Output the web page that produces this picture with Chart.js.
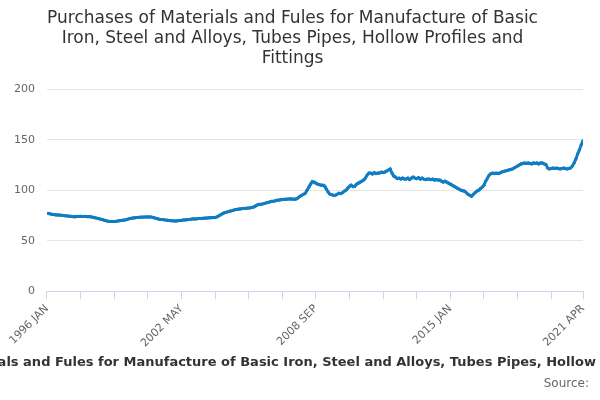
<!DOCTYPE html>
<html>
<head>
<meta charset="utf-8">
<script src="https://cdn.jsdelivr.net/npm/chart.js@4/dist/chart.umd.min.js"></script>
<style>
  html, body { margin: 0; padding: 0; background: #fff; }
  #wrap { position: relative; width: 600px; height: 400px; overflow: hidden; font-family: "DejaVu Sans", sans-serif; }
  #subtitle { position: absolute; left: -300px; width: 1200px; top: 354px; text-align: center; white-space: nowrap;
              font-size: 13px; font-weight: bold; color: #333; }
  #source { position: absolute; right: 11px; top: 376px; font-size: 12px; color: #666; }
</style>
</head>
<body>
<div id="wrap">
  <canvas id="chart" width="600" height="400"></canvas>
  <div id="subtitle">Purchases of Materials and Fules for Manufacture of Basic Iron, Steel and Alloys, Tubes Pipes, Hollow Profiles and Fittings</div>
  <div id="source">Source:</div>
</div>
<script>
// monthly index, 1996 JAN .. 2021 APR
const values = [
  77,77,76.5,76,76,75.5,75.5,75.4,75.2,75,74.8,74.6,
  74.4,74.2,74,73.8,73.8,74,74,74.2,74,74,74,73.8,
  74,73.6,73.2,72.8,72.4,72,71.5,71,70.5,70,69.5,69.2,
  69,69,69,69.2,69.5,69.8,70,70.3,70.6,71,71.5,72,
  72.3,72.6,72.8,73,73.2,73.3,73.4,73.5,73.5,73.6,73.5,73.5,
  73,72.5,72,71.5,71,71,70.8,70.5,70.3,70,69.8,69.7,
  69.6,69.6,69.8,70,70.2,70.5,70.6,70.8,71,71.2,71.5,71.7,
  71.5,71.8,72,72,72.2,72.3,72.5,72.6,72.8,72.8,73,73,
  73.5,74.5,75.5,76.5,77.5,78,78.5,79,79.5,80,80.5,81,
  81.2,81.5,81.7,82,82,82.2,82.4,82.6,83,83.5,84.5,85.5,
  86,86,86.5,87,87.5,88,88.5,89,89,89.5,90,90.2,
  90.5,90.7,91,91,91.2,91.4,91.4,91.2,91,91.5,92.5,94,
  95,96,97,100,103,106,108.6,108,107,106,105.5,105,
  105,104,101,98,96,95.5,95,95,96,97,96.5,97.5,
  99,100,102,104,105,103.5,104,106,107,108,109,110,
  112,115,117,117,116,117.5,116.5,117,117,118,117.5,118,
  119,120,121,117,114,113,111.5,112,111,112,111,111,
  112,110.5,112,113,112,111.5,112.5,111,112,111,110.5,111,
  111,110.5,111,110,110.5,110,110,109,108,109,108,107,
  106,105,104,103,102,101,100,99.5,99,97.5,96,95,
  94,96,97.5,99,100,101.5,103,105,109,112,115,116.5,
  117,116.5,117,116.5,117,118,118.5,119,119.5,120,120.5,121,
  122,123,124,125,126,126.5,127,126.5,127,126.5,126,127,
  126.5,127,126,127,127,126,125.5,122,121,121.5,122,121.5,
  122,121.5,121,121.5,122,121.5,121,121.5,122,124,127,131,
  136,140,145,149
];
const tickLabels = ['1996 JAN', '2002 MAY', '2008 SEP', '2015 JAN', '2021 APR'];
const labelAt = [0, 76, 152, 228, 303];  // month index of each printed label
const tickEvery = 19;                    // months between tick marks
const yTicks = [0, 50, 100, 150, 200];

const lineColor = '#0f7dc2';

new Chart(document.getElementById('chart'), {
  type: 'line',
  data: {
    datasets: [{
      data: values.map((v, i) => ({ x: i, y: v })),
      borderColor: lineColor,
      backgroundColor: lineColor,
      borderWidth: 3,
      pointRadius: 1.6,
      pointBorderWidth: 0,
      tension: 0
    }]
  },
  options: {
    responsive: false,
    animation: false,
    layout: { padding: { left: 2, right: 17, top: 8, bottom: 47 } },
    plugins: {
      legend: { display: false },
      tooltip: { enabled: false },
      title: {
        display: true,
        text: ['Purchases of Materials and Fules for Manufacture of Basic',
               'Iron, Steel and Alloys, Tubes Pipes, Hollow Profiles and',
               'Fittings'],
        color: '#333',
        font: { family: 'DejaVu Sans', size: 17, weight: 'normal', lineHeight: 1.2 },
        padding: { top: 0, bottom: 20 }
      }
    },
    scales: {
      x: {
        type: 'linear',
        min: 0,
        max: values.length - 1,
        grid: { drawOnChartArea: false, color: '#ccd6eb', tickLength: 8 },
        border: { color: '#ccd6eb' },
        ticks: {
          autoSkip: false,
          maxRotation: 45,
          minRotation: 45,
          color: '#666',
          font: { family: 'DejaVu Sans', size: 11 },
          callback: (v) => {
            const k = labelAt.indexOf(v);
            return k >= 0 ? tickLabels[k] : '';
          }
        },
        afterBuildTicks: (axis) => {
          const t = [];
          for (let i = 0; i < values.length - 4; i += tickEvery) t.push({ value: i });
          t.push({ value: values.length - 1 });
          axis.ticks = t;
        }
      },
      y: {
        min: yTicks[0],
        max: yTicks[yTicks.length - 1],
        grid: { color: '#e6e6e6', drawTicks: false },
        border: { display: false },
        ticks: {
          stepSize: 50,
          padding: 12,
          color: '#666',
          font: { family: 'DejaVu Sans', size: 11 }
        }
      }
    }
  }
});
</script>
</body>
</html>
